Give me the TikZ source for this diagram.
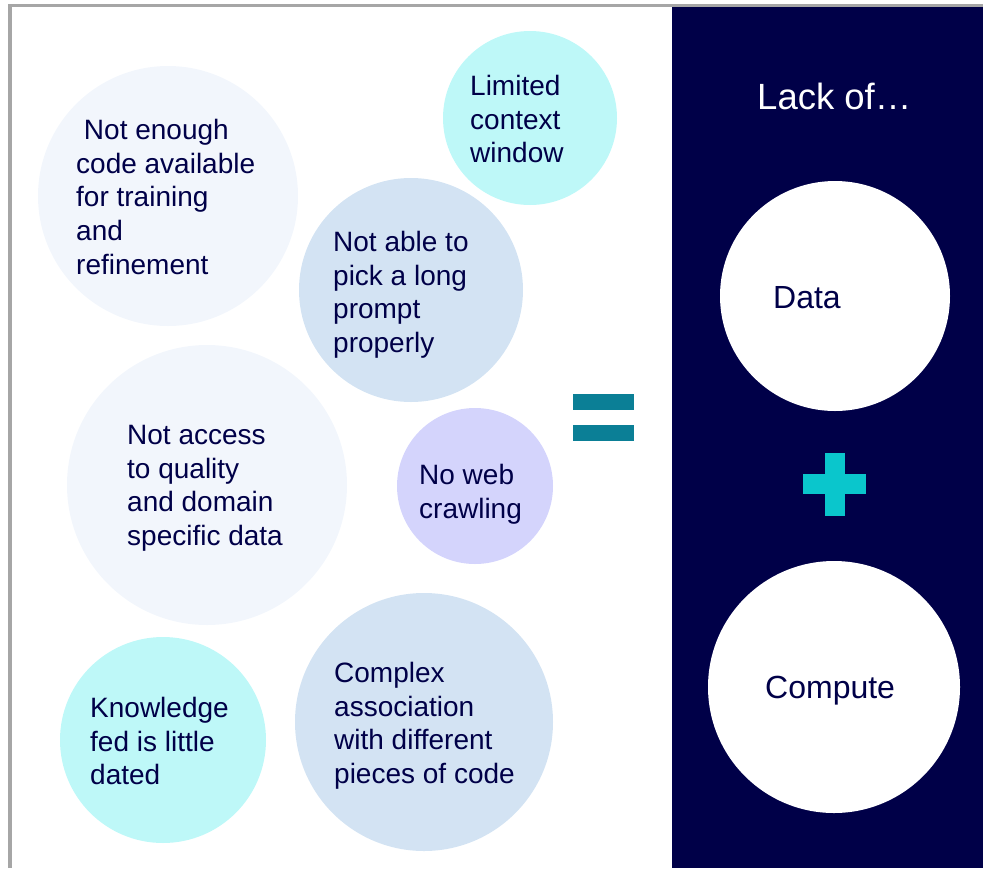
\documentclass[tikz,border=0pt]{standalone}
\usepackage{fontspec}
\setmainfont{Liberation Sans}
\usetikzlibrary{positioning}

\definecolor{navy}{HTML}{000048}
\definecolor{paleblue}{HTML}{F2F6FC}
\definecolor{palecyan}{HTML}{BEF8F8}
\definecolor{steelblue}{HTML}{D3E3F3}
\definecolor{lavender}{HTML}{D4D4FC}
\definecolor{eqteal}{HTML}{0B7F96}
\definecolor{pluscyan}{HTML}{0AC6CC}
\definecolor{framegray}{HTML}{A6A6A6}

\tikzset{
  bubble/.style={circle,inner sep=0pt,draw=none},
  txt/.style={align=left,inner sep=0pt,anchor=north west,text=navy,
    font=\fontsize{28}{33.7}\selectfont},
  bigtxt/.style={inner sep=0pt,anchor=north west,font=\fontsize{32}{38}\selectfont}
}

\begin{document}
\begin{tikzpicture}[x=1pt,y=-1pt]
  \useasboundingbox (0,0) rectangle (983,868); % 画像全体の大きさ
  \fill[navy] (672,6) rectangle (983,868); % 右側の濃紺の帯
  \draw[framegray,line width=3pt] (8,5) -- (983,5); % 上の灰色の枠線
  \draw[framegray,line width=4pt] (9.5,868) -- (9.5,3.5); % 左の灰色の枠線

  % 左側の課題を表す円
  \node[bubble,fill=paleblue,minimum size=260pt] (notenough) at (168,196) {};
  \node[bubble,fill=palecyan,minimum size=174pt] (limited) at (530,118) {};
  \node[bubble,fill=steelblue,minimum size=224pt] (notable) at (411,290) {};
  \node[bubble,fill=paleblue,minimum size=280pt] (notaccess) at (207,485) {};
  \node[bubble,fill=lavender,minimum size=156pt] (noweb) at (475,486) {};
  \node[bubble,fill=palecyan,minimum size=206pt] (knowledge) at (163,740) {};
  \node[bubble,fill=steelblue,minimum size=258pt] (complex) at (424,722) {};

  % 円の中の文字（左揃え）
  \node[txt] (notenoughtxt) at (76,119) {\ Not enough\\code available\\for training\\and\\refinement};
  \node[txt] (limitedtxt) at (470,75) {Limited\\context\\window};
  \node[txt] (notabletxt) at (333,231) {Not able to\\pick a long\\prompt\\properly};
  \node[txt] (notaccesstxt) at (127,425) {Not access\\to quality\\and domain\\specific data};
  \node[txt] (nowebtxt) at (419,464) {No web\\crawling};
  \node[txt] (knowledgetxt) at (90,697) {Knowledge\\fed is little\\dated};
  \node[txt] (complextxt) at (334,662) {Complex\\association\\with different\\pieces of code};

  % 等号
  \fill[eqteal] (573,394) rectangle (634,410);
  \fill[eqteal] (573,425) rectangle (634,441);

  % 右側：Lack of… と白い円
  \node[inner sep=0pt,anchor=north west,text=white,font=\fontsize{36.5}{43}\selectfont] (lackof) at (757,83) {Lack of…};
  \node[bubble,fill=white,minimum size=230pt] (data) at (835,296) {};
  \node[bubble,fill=white,minimum size=252pt] (compute) at (834,687) {};
  \node[bigtxt,text=navy] (datatxt) at (773,286) {Data};
  \node[bigtxt,text=navy] (computetxt) at (765,676) {Compute};
  \fill[pluscyan] (825,453) rectangle (845,516); % 十字の縦棒
  \fill[pluscyan] (803,474) rectangle (866,494); % 十字の横棒
\end{tikzpicture}
\end{document}
